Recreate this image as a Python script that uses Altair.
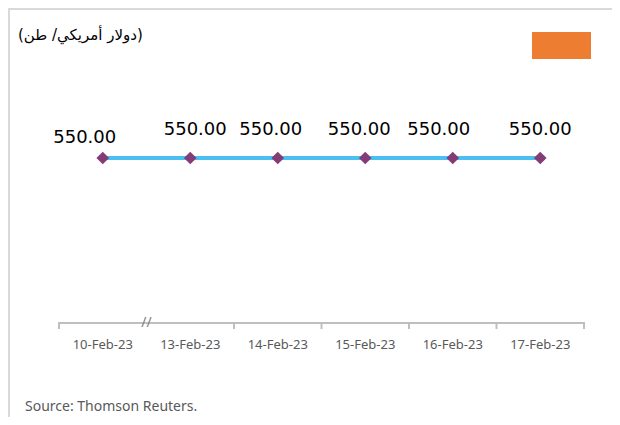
import altair as alt
import pandas as pd

# ---- data ----
dates = ["10-Feb-23", "13-Feb-23", "14-Feb-23", "15-Feb-23", "16-Feb-23", "17-Feb-23"]
prices = [550.00, 550.00, 550.00, 550.00, 550.00, 550.00]
unit_label = ["(دولار أمريكي/ طن)"]
source_label = ["Source: Thomson Reuters."]
break_date = ["13-Feb-23"]

df = pd.DataFrame({"date": dates, "price": prices})

# label placement (style, per point): (dx, dy)
label_offsets = [(-18, -20), (5, -28), (-7, -28), (-6, -28), (-14, -28), (0, -28)]

W, H = 525, 315
xscale = alt.Scale(type="band", domain=dates, paddingInner=0, paddingOuter=0)
yscale = alt.Scale(domain=[0, 1050])


def xq(**kw):
    return alt.X("date:N", sort=dates, scale=xscale, **kw)


xenc = alt.X(
    "date:N",
    sort=dates,
    scale=xscale,
    axis=alt.Axis(
        title=None, labelAngle=0, ticks=False, grid=False, domain=False,
        labelColor="#595959", labelFont="Noto Sans", labelFontSize=13,
        labelPadding=15, labelAlign="center", labelBaseline="top",
        bandPosition=0.5,
    ),
)
yenc = alt.Y("price:Q", scale=yscale, axis=None)

base = alt.Chart(df)

line = base.mark_line(color="#4BBFF2", strokeWidth=4).encode(x=xenc, y=yenc)
points = base.mark_point(shape="diamond", filled=True, size=160, color="#843C77", opacity=1).encode(
    x=xq(), y=yenc
)

labels = []
for d, (dx, dy) in zip(dates, label_offsets):
    labels.append(
        base.transform_filter(alt.datum.date == d)
        .mark_text(font="DejaVu Sans", fontSize=18, color="#000000", dx=dx, dy=dy, baseline="middle")
        .encode(x=xq(), y=yenc, text=alt.Text("price:Q", format=".2f"))
    )

# axis line
axis_line = alt.Chart(pd.DataFrame({"t": [0]})).mark_rule(color="#bfbfbf", strokeWidth=2).encode(
    x=alt.value(0), x2=alt.value(W), y=alt.value(H)
)
# axis ticks at band boundaries (the break replaces the one after the first date)
tick_df = pd.DataFrame({"date": [d for d in dates if d not in break_date]})
ticks = alt.Chart(tick_df).mark_rule(color="#bfbfbf", strokeWidth=2).encode(
    x=xq(bandPosition=0),
    y=alt.value(H - 1), y2=alt.value(H + 6),
)
end_tick = alt.Chart(pd.DataFrame({"date": [dates[-1]]})).mark_rule(color="#bfbfbf", strokeWidth=2).encode(
    x=xq(bandPosition=1),
    y=alt.value(H - 1), y2=alt.value(H + 6),
)
brk = alt.Chart(pd.DataFrame({"date": break_date})).mark_text(
    text="//", font="Noto Sans", fontSize=14, color="#7f7f7f", baseline="middle", align="center"
).encode(
    x=xq(bandPosition=0),
    y=alt.value(H),
)

# annotations
unit = alt.Chart(pd.DataFrame({"t": unit_label})).mark_text(
    font="DejaVu Sans", fontSize=15, color="#000000", align="left", baseline="middle"
).encode(text="t:N", x=alt.value(-41), y=alt.value(27))

source = alt.Chart(pd.DataFrame({"t": source_label})).mark_text(
    font="Noto Sans", fontSize=14, color="#595959", align="left", baseline="middle"
).encode(text="t:N", x=alt.value(-34), y=alt.value(399))

legend_box = alt.Chart(pd.DataFrame({"t": [0]})).mark_rect(color="#ED7D31").encode(
    x=alt.value(473), x2=alt.value(532), y=alt.value(24), y2=alt.value(51)
)

border_left = alt.Chart(pd.DataFrame({"t": [0]})).mark_rule(color="#d9d9d9", strokeWidth=2).encode(
    x=alt.value(-50), y=alt.value(0), y2=alt.value(410)
)
border_top = alt.Chart(pd.DataFrame({"t": [0]})).mark_rule(color="#d9d9d9", strokeWidth=2).encode(
    x=alt.value(-50), x2=alt.value(553), y=alt.value(1)
)

chart = alt.layer(
    line, border_left, border_top, axis_line, ticks, end_tick, points, *labels, brk, unit, source, legend_box
).properties(
    width=W, height=H,
    autosize=alt.AutoSizeParams(type="none"),
    padding={"left": 51, "top": 0, "right": 28, "bottom": 94},
    background="white",
).configure_view(stroke=None).configure_axisX(
    labelAngle=0, ticks=False, grid=False, title=None, domain=False,
    labelColor="#595959", labelFont="Noto Sans", labelFontSize=13,
    labelPadding=15, labelAlign="center", labelBaseline="top",
)

chart.save("out.html", embed_options={"renderer": "svg", "actions": False})
